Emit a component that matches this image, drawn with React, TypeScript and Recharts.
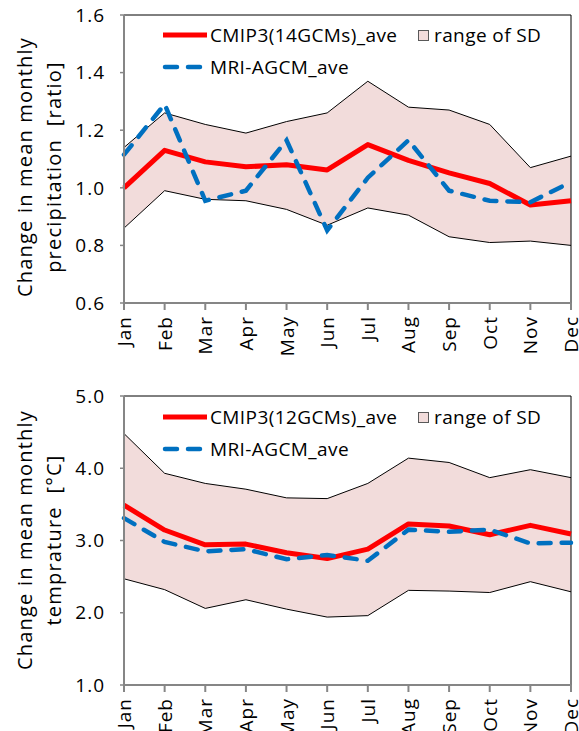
import React from "react";
import {
  ComposedChart,
  Area,
  Line,
  XAxis,
  YAxis,
  Legend,
  ReferenceLine,
} from "recharts";

const months = ["Jan", "Feb", "Mar", "Apr", "May", "Jun", "Jul", "Aug", "Sep", "Oct", "Nov", "Dec"];

// precipitation ratio
const precipSdHigh = [1.14, 1.26, 1.22, 1.19, 1.23, 1.26, 1.37, 1.28, 1.27, 1.22, 1.07, 1.11];
const precipSdLow = [0.86, 0.99, 0.96, 0.955, 0.925, 0.87, 0.93, 0.905, 0.83, 0.81, 0.815, 0.8];
const precipCmip3 = [1.0, 1.13, 1.09, 1.073, 1.08, 1.062, 1.15, 1.095, 1.052, 1.015, 0.94, 0.955];
const precipMri = [1.115, 1.29, 0.955, 0.99, 1.165, 0.852, 1.035, 1.165, 0.99, 0.955, 0.95, 1.02];
const precipTicks = [0.6, 0.8, 1.0, 1.2, 1.4, 1.6];

// temperature change
const tempSdHigh = [4.48, 3.93, 3.79, 3.71, 3.59, 3.58, 3.79, 4.14, 4.08, 3.87, 3.98, 3.87];
const tempSdLow = [2.47, 2.32, 2.06, 2.18, 2.05, 1.94, 1.96, 2.31, 2.3, 2.28, 2.43, 2.29];
const tempCmip3 = [3.49, 3.145, 2.94, 2.95, 2.83, 2.75, 2.88, 3.23, 3.2, 3.08, 3.21, 3.09];
const tempMri = [3.31, 2.98, 2.85, 2.88, 2.74, 2.8, 2.72, 3.15, 3.12, 3.15, 2.96, 2.97];
const tempTicks = [1, 2, 3, 4, 5];

const FONT = "'Open Sans', 'DejaVu Sans', sans-serif";
const AXIS_GRAY = "#868686";
const SD_FILL = "#f2dcdb";
const RED = "#ff0000";
const BLUE = "#0070c0";
const DASH = "12 11";

function buildRows(low: number[], high: number[], ave: number[], mri: number[]) {
  return months.map((m, i) => ({
    month: m,
    sd: [low[i], high[i]],
    low: low[i],
    high: high[i],
    ave: ave[i],
    mri: mri[i],
  }));
}

const MonthTick = (props: any) => {
  const { x, y, payload } = props;
  const bx = x + 7;
  return (
    <text
      x={bx}
      y={y}
      transform={`rotate(-90, ${bx}, ${y})`}
      textAnchor="end"
      fontSize={19}
      letterSpacing={1}
      fontFamily={FONT}
      fill="#000"
    >
      {payload.value}
    </text>
  );
};

function yLabel(lines: string[], cy: number) {
  return () => (
    <g>
      {lines.map((t, i) => {
        const x = 32 + i * 29;
        return (
          <text
            key={t}
            x={x}
            y={cy}
            transform={`rotate(-90, ${x}, ${cy})`}
            textAnchor="middle"
            fontSize={20}
            letterSpacing={1.2}
            fontFamily={FONT}
            fill="#000"
            style={{ whiteSpace: "pre" }}
          >
            {t}
          </text>
        );
      })}
    </g>
  );
}

function legendContent(cmipName: string) {
  const txt = { fontSize: 19, fontFamily: FONT, fill: "#000", letterSpacing: 0.4 };
  return () => (
    <svg width={410} height={66} style={{ overflow: "visible" }}>
      <line x1={8} x2={52} y1={17} y2={17} stroke={RED} strokeWidth={5} />
      <text x={55} y={17} dominantBaseline="central" {...txt}>
        {cmipName}
      </text>
      <rect x={263.5} y={12.5} width={10} height={10} fill={SD_FILL} stroke="#595959" strokeWidth={1} />
      <text x={279} y={17} dominantBaseline="central" {...txt}>
        range of SD
      </text>
      <line
        x1={10}
        x2={52}
        y1={49}
        y2={49}
        stroke={BLUE}
        strokeWidth={4.5}
        strokeDasharray={DASH}
        strokeLinecap="round"
      />
      <text x={55} y={49} dominantBaseline="central" {...txt}>
        MRI-AGCM_ave
      </text>
    </svg>
  );
}

interface PanelProps {
  rows: ReturnType<typeof buildRows>;
  height: number;
  top: number;
  xAxisHeight: number;
  domain: [number, number];
  ticks: number[];
  labelLines: string[];
  labelCy: number;
  legendTop: number;
  cmipName: string;
}

function Panel(p: PanelProps) {
  return (
    <ComposedChart
      width={579}
      height={p.height}
      data={p.rows}
      margin={{ top: p.top, right: 8, left: 0, bottom: 0 }}
    >
      <XAxis
        dataKey="month"
        scale="point"
        padding={{ left: 0, right: 0 }}
        height={p.xAxisHeight}
        interval={0}
        axisLine={{ stroke: AXIS_GRAY, strokeWidth: 2 }}
        tickLine={{ stroke: AXIS_GRAY, strokeWidth: 2 }}
        tickSize={7}
        tickMargin={6}
        tick={<MonthTick />}
      />
      <YAxis
        type="number"
        domain={p.domain}
        ticks={p.ticks}
        interval={0}
        width={124}
        tickFormatter={(v: number) => v.toFixed(1)}
        axisLine={{ stroke: AXIS_GRAY, strokeWidth: 2 }}
        tickLine={{ stroke: AXIS_GRAY, strokeWidth: 1.5 }}
        tickSize={4}
        tickMargin={15}
        tick={{ fill: "#000", fontSize: 19, fontFamily: FONT, letterSpacing: 1 }}
        label={{ content: yLabel(p.labelLines, p.labelCy) }}
      />
      <ReferenceLine y={p.domain[1]} stroke="#000" strokeWidth={1} />
      <ReferenceLine x="Dec" stroke="#000" strokeWidth={1} />
      <Area
        dataKey="sd"
        fill={SD_FILL}
        fillOpacity={1}
        stroke="none"
        isAnimationActive={false}
        legendType="none"
      />
      <Line dataKey="high" stroke="#000" strokeWidth={1} dot={false} isAnimationActive={false} legendType="none" />
      <Line dataKey="low" stroke="#000" strokeWidth={1} dot={false} isAnimationActive={false} legendType="none" />
      <Line
        dataKey="ave"
        stroke={RED}
        strokeWidth={5}
        strokeLinejoin="round"
        dot={false}
        isAnimationActive={false}
      />
      <Line
        dataKey="mri"
        stroke={BLUE}
        strokeWidth={4.5}
        strokeDasharray={DASH}
        strokeLinecap="round"
        dot={false}
        isAnimationActive={false}
      />
      <Legend
        layout="vertical"
        align="center"
        verticalAlign="middle"
        wrapperStyle={{ left: 155, top: p.legendTop, width: 410, height: 66 }}
        content={legendContent(p.cmipName)}
      />
    </ComposedChart>
  );
}

export default function App() {
  const precipRows = buildRows(precipSdLow, precipSdHigh, precipCmip3, precipMri);
  const tempRows = buildRows(tempSdLow, tempSdHigh, tempCmip3, tempMri);

  return (
    <div style={{ position: "absolute", left: 0, top: 0, width: 579, height: 731, background: "#fff", overflow: "hidden" }}>
      <Panel
        rows={precipRows}
        height={360}
        top={15}
        xAxisHeight={57}
        domain={[0.6, 1.6]}
        ticks={precipTicks}
        labelLines={["Change in mean monthly", "precipitation  [ratio]"]}
        labelCy={167}
        legendTop={18}
        cmipName="CMIP3(14GCMs)_ave"
      />
      <Panel
        rows={tempRows}
        height={371}
        top={36}
        xAxisHeight={46}
        domain={[1, 5]}
        ticks={tempTicks}
        labelLines={["Change in mean monthly", "temprature  [°C]"]}
        labelCy={180}
        legendTop={40}
        cmipName="CMIP3(12GCMs)_ave"
      />
    </div>
  );
}
